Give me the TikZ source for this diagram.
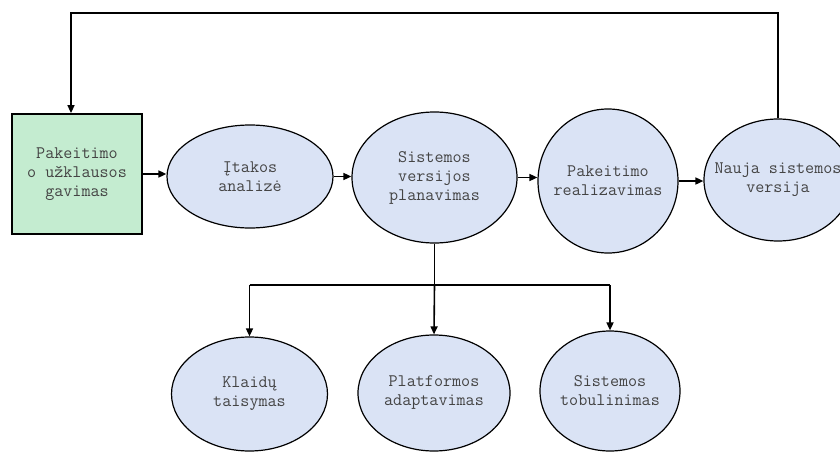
\documentclass[tikz,border=0pt]{standalone}
\usepackage{fontspec}
\usetikzlibrary{shapes.geometric,arrows.meta}
\definecolor{stepblue}{RGB}{218,227,245}
\definecolor{startgreen}{RGB}{196,236,208}
\definecolor{labelgray}{RGB}{68,68,68}
\begin{document}
\begin{tikzpicture}[x=1pt,y=-1pt,
  lbl/.style={font=\ttfamily\fontsize{17.6}{19}\selectfont, text=labelgray, align=center},
  oval/.style={lbl, ellipse, draw=black, line width=1.2pt, fill=stepblue,
    inner xsep=-40pt, inner ysep=-10pt},
  startbox/.style={lbl, rectangle, draw=black, line width=1.8pt, fill=startgreen, inner sep=0pt,
    minimum width=130, minimum height=120},
  link/.style={line width=1.6pt},
  arr/.style={link, -{Triangle[length=8pt,width=7pt]}}]
\useasboundingbox (0,0) rectangle (840,452);

% main chain of steps
\node[startbox] (req) at (77,174) {Pakeitimo\\o užklausos\\gavimas};
\node[oval, minimum width=166, minimum height=103] (impact) at (250,176.5) {Įtakos\\analizė};
\node[oval, minimum width=165, minimum height=131] (plan) at (434.5,177.5) {Sistemos\\versijos\\planavimas};
\node[oval, minimum width=140, minimum height=144] (impl) at (608,181) {Pakeitimo\\realizavimas};
\node[oval, minimum width=148, minimum height=122] (release) at (778,180) {Nauja sistemos\\versija};

% kinds of change
\node[oval, minimum width=156, minimum height=114] (fix) at (249.5,394) {Klaidų\\taisymas};
\node[oval, minimum width=152, minimum height=116] (adapt) at (434,393) {Platformos\\adaptavimas};
\node[oval, minimum width=140, minimum height=120] (improve) at (610,391) {Sistemos\\tobulinimas};

% forward arrows
\draw[arr] (req.east) -- (req.east -| impact.west);
\draw[arr] (impact.east) -- (impact.east -| plan.west);
\draw[arr] (plan.east) -- (plan.east -| impl.west);
\draw[arr] (impl.east) -- (impl.east -| release.west);

% feedback loop to the start
\coordinate (loop) at (0,13);
\coordinate (reqin) at ([xshift=-6pt]req.north);
\draw[arr] (release.north) -- (release.north |- loop) -- (reqin |- loop) -- (reqin);

% branching to the kinds of change
\coordinate (split) at (plan.south |- 0,285);
\draw[link] (plan.south) -- (split);
\draw[link] (fix.north |- split) -- (improve.north |- split);
\draw[arr] (fix.north |- split) -- (fix.north);
\draw[arr] (split) -- (adapt.north);
\draw[arr] (improve.north |- split) -- (improve.north);
\end{tikzpicture}
\end{document}
